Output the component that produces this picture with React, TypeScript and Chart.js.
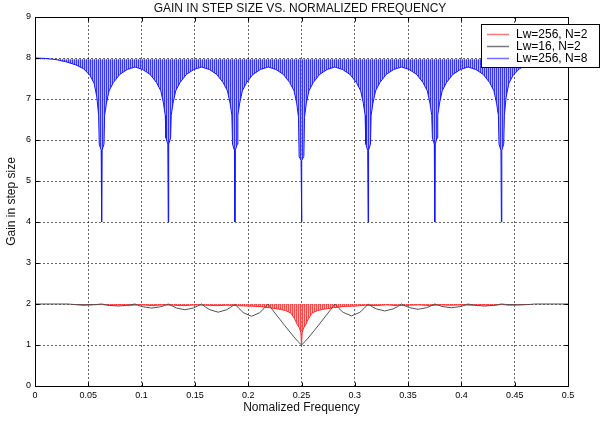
import { useEffect, useRef } from 'react';
import { Chart, registerables } from 'chart.js';

Chart.register(...registerables);

const chartTitle = 'GAIN IN STEP SIZE VS. NORMALIZED FREQUENCY';
const xAxisTitle = 'Nomalized Frequency';
const yAxisTitle = 'Gain in step size';
const seriesLabels = ['Lw=256, N=2', 'Lw=16, N=2', 'Lw=256, N=8'];

const xTickValues = [0, 0.05, 0.1, 0.15, 0.2, 0.25, 0.3, 0.35, 0.4, 0.45, 0.5];
const xTickLabels = ['0', '0.05', '0.1', '0.15', '0.2', '0.25', '0.3', '0.35', '0.4', '0.45', '0.5'];
const yTickValues = [0, 1, 2, 3, 4, 5, 6, 7, 8, 9];
const yTickLabels = ['0', '1', '2', '3', '4', '5', '6', '7', '8', '9'];

// Lw=256, N=2 (lower envelope of the red trace)
const redFreq = [
  0.035, 0.045, 0.055, 0.0625, 0.07, 0.08, 0.09, 0.1, 0.11, 0.12,
  0.13, 0.14, 0.15, 0.16, 0.17, 0.18, 0.19, 0.2, 0.21, 0.22,
  0.23, 0.235, 0.24, 0.2435, 0.246, 0.248, 0.2494, 0.25, 0.2506, 0.252,
  0.254, 0.2565, 0.26, 0.265, 0.27, 0.28, 0.29, 0.3, 0.31, 0.32,
  0.33, 0.34, 0.35, 0.36, 0.37, 0.38, 0.39, 0.4, 0.41, 0.42,
  0.43, 0.4375, 0.445, 0.455, 0.465,
];
const redGain = [
  1.99, 1.97, 1.98, 1.99, 1.97, 1.98, 1.97, 1.98, 1.96, 1.98,
  1.97, 1.96, 1.98, 1.97, 1.96, 1.97, 1.96, 1.95, 1.94, 1.91,
  1.87, 1.84, 1.78, 1.64, 1.5, 1.42, 1.3, 1.0, 1.3, 1.42,
  1.5, 1.64, 1.78, 1.84, 1.87, 1.91, 1.94, 1.95, 1.97, 1.96,
  1.98, 1.96, 1.97, 1.98, 1.96, 1.98, 1.97, 1.98, 1.97, 1.98,
  1.97, 1.99, 1.97, 1.98, 1.99,
];

// Lw=16, N=2
const blackFreq = [
  0, 0.03125, 0.0352, 0.0391, 0.0469, 0.0547, 0.0586,
  0.0625, 0.0664, 0.0703, 0.0781, 0.0859, 0.0898,
  0.09375, 0.0977, 0.1016, 0.1094, 0.1172, 0.1211,
  0.125, 0.1289, 0.1328, 0.1406, 0.1484, 0.1523,
  0.15625, 0.1602, 0.1641, 0.1719, 0.1797, 0.1836,
  0.1875, 0.1914, 0.1953, 0.2031, 0.2109, 0.2148,
  0.21875, 0.2227, 0.2266, 0.2344, 0.2422, 0.2461, 0.25, 0.2539, 0.2578, 0.2656, 0.2734, 0.2773,
  0.28125, 0.2852, 0.2891, 0.2969, 0.3047, 0.3086,
  0.3125, 0.3164, 0.3203, 0.3281, 0.3359, 0.3398,
  0.34375, 0.3477, 0.3516, 0.3594, 0.3672, 0.3711,
  0.375, 0.3789, 0.3828, 0.3906, 0.3984, 0.4023,
  0.40625, 0.4102, 0.4141, 0.4219, 0.4297, 0.4336,
  0.4375, 0.4414, 0.4453, 0.4531, 0.4609, 0.4648,
  0.46875, 0.5,
];
const blackGain = [
  2, 2, 1.99, 1.986, 1.98, 1.986, 1.99,
  2, 1.98, 1.965, 1.95, 1.965, 1.98,
  2, 1.96, 1.93, 1.9, 1.93, 1.96,
  2, 1.95, 1.9, 1.86, 1.9, 1.95,
  2, 1.92, 1.86, 1.8, 1.86, 1.92,
  2, 1.89, 1.79, 1.7, 1.79, 1.89,
  2, 1.86, 1.73, 1.47, 1.22, 1.1, 1.0, 1.1, 1.22, 1.47, 1.73, 1.86,
  2, 1.89, 1.795, 1.71, 1.795, 1.89,
  2, 1.93, 1.88, 1.83, 1.88, 1.93,
  2, 1.95, 1.91, 1.87, 1.91, 1.95,
  2, 1.965, 1.935, 1.91, 1.935, 1.965,
  2, 1.98, 1.965, 1.95, 1.965, 1.98,
  2, 1.99, 1.986, 1.98, 1.986, 1.99,
  2, 2,
];

// Lw=256, N=8 (lower envelope of the blue trace)
const blueFreq = [
  0, 0.01, 0.02, 0.03, 0.0385, 0.0455, 0.0515, 0.0555, 0.058, 0.0597, 0.0603, 0.0621, 0.0625,
  0.0629, 0.0647, 0.0653, 0.067, 0.0695, 0.0735, 0.0795, 0.0865, 0.09375,
  0.101, 0.108, 0.114, 0.118, 0.1205, 0.1222, 0.1228, 0.1246, 0.125,
  0.1254, 0.1272, 0.1278, 0.1295, 0.132, 0.136, 0.142, 0.149, 0.15625,
  0.1635, 0.1705, 0.1765, 0.1805, 0.183, 0.1847, 0.1853, 0.1871, 0.1875,
  0.1879, 0.1897, 0.1903, 0.192, 0.1945, 0.1985, 0.2045, 0.2115, 0.21875,
  0.226, 0.233, 0.239, 0.243, 0.2455, 0.2472, 0.2478, 0.2496, 0.25,
  0.2504, 0.2522, 0.2528, 0.2545, 0.257, 0.261, 0.267, 0.274, 0.28125,
  0.2885, 0.2955, 0.3015, 0.3055, 0.308, 0.3097, 0.3103, 0.3121, 0.3125,
  0.3129, 0.3147, 0.3153, 0.317, 0.3195, 0.3235, 0.3295, 0.3365, 0.34375,
  0.351, 0.358, 0.364, 0.368, 0.3705, 0.3722, 0.3728, 0.3746, 0.375,
  0.3754, 0.3772, 0.3778, 0.3795, 0.382, 0.386, 0.392, 0.399, 0.40625,
  0.4135, 0.4205, 0.4265, 0.4305, 0.433, 0.4347, 0.4353, 0.4371, 0.4375,
  0.4379, 0.4397, 0.4403, 0.442, 0.4445, 0.4485, 0.4545, 0.4615, 0.47, 0.48, 0.49, 0.5,
];
const blueGain = [
  8, 7.99, 7.96, 7.9, 7.83, 7.74, 7.58, 7.38, 7.05, 6.6, 5.9, 5.75, 4,
  5.75, 5.9, 6.6, 6.9, 7.2, 7.4, 7.6, 7.72, 7.78,
  7.72, 7.6, 7.4, 7.2, 6.9, 6.6, 6.05, 5.9, 4,
  5.9, 6.05, 6.6, 6.9, 7.2, 7.4, 7.6, 7.72, 7.78,
  7.72, 7.6, 7.4, 7.2, 6.9, 6.6, 5.9, 5.75, 4,
  5.75, 5.9, 6.6, 6.9, 7.2, 7.4, 7.6, 7.72, 7.78,
  7.72, 7.6, 7.4, 7.2, 6.9, 6.55, 5.6, 5.5, 4,
  5.5, 5.6, 6.55, 6.9, 7.2, 7.4, 7.6, 7.72, 7.78,
  7.72, 7.6, 7.4, 7.2, 6.9, 6.6, 5.9, 5.75, 4,
  5.75, 5.9, 6.6, 6.9, 7.2, 7.4, 7.6, 7.72, 7.78,
  7.72, 7.6, 7.4, 7.2, 6.9, 6.6, 6.05, 5.9, 4,
  5.9, 6.05, 6.6, 6.9, 7.2, 7.4, 7.6, 7.72, 7.78,
  7.72, 7.6, 7.4, 7.2, 6.9, 6.6, 5.9, 5.75, 4,
  5.75, 5.9, 6.6, 7.05, 7.38, 7.58, 7.74, 7.83, 7.9, 7.96, 7.99, 8,
];
const blueTop = 7.97;
const redTop = 2;

const FONT = 'Liberation Sans, Arial, Helvetica, sans-serif';

const toPoints = (xs: number[], ys: number[]) => xs.map((x, i) => ({ x, y: ys[i] }));

const frameLegendPlugin = {
  id: 'frameLegend',
  afterDraw(chart: any) {
    const { ctx, chartArea: a, scales } = chart;
    ctx.save();
    ctx.strokeStyle = '#000';
    ctx.lineWidth = 1;
    const l = Math.round(a.left) + 0.5;
    const r = Math.round(a.right) + 0.5;
    const t = Math.round(a.top) + 0.5;
    const b = Math.round(a.bottom) + 0.5;
    ctx.strokeRect(l, t, r - l, b - t);
    ctx.beginPath();
    scales.x.ticks.forEach((tk: any) => {
      const px = Math.round(scales.x.getPixelForValue(tk.value)) + 0.5;
      ctx.moveTo(px, b); ctx.lineTo(px, b - 4);
      ctx.moveTo(px, t); ctx.lineTo(px, t + 4);
    });
    scales.y.ticks.forEach((tk: any) => {
      const py = Math.round(scales.y.getPixelForValue(tk.value)) + 0.5;
      ctx.moveTo(l, py); ctx.lineTo(l + 4, py);
      ctx.moveTo(r, py); ctx.lineTo(r - 4, py);
    });
    ctx.stroke();

    // legend box
    const bx = 481, by = 24, bw = 118, bh = 43;
    ctx.fillStyle = '#fff';
    ctx.fillRect(bx, by, bw, bh);
    ctx.strokeStyle = '#000';
    ctx.strokeRect(bx + 0.5, by + 0.5, bw, bh);
    const rows = [34, 46, 58];
    const legendColors = ['rgb(255,120,120)', 'rgb(120,120,120)', 'rgb(110,110,255)'];
    ctx.font = `12px ${FONT}`;
    ctx.textBaseline = 'middle';
    ctx.textAlign = 'left';
    seriesLabels.forEach((lab, i) => {
      ctx.strokeStyle = legendColors[i];
      ctx.lineWidth = 1.5;
      ctx.beginPath();
      ctx.moveTo(487, rows[i] + 0.5);
      ctx.lineTo(509, rows[i] + 0.5);
      ctx.stroke();
      ctx.fillStyle = '#000';
      ctx.fillText(lab, 516, rows[i] + 0.5);
    });
    ctx.restore();
  },
};

export default function App() {
  const ref = useRef<HTMLCanvasElement>(null);
  useEffect(() => {
    const canvas = ref.current!;
    const ctx = canvas.getContext('2d')!;
    const makeHatch = (dark: string, light: string) => {
      const p = document.createElement('canvas');
      p.width = 2;
      p.height = 1;
      const pc = p.getContext('2d')!;
      pc.fillStyle = light;
      pc.fillRect(0, 0, 2, 1);
      pc.fillStyle = dark;
      pc.fillRect(0, 0, 1, 1);
      return ctx.createPattern(p, 'repeat')!;
    };
    const blueHatch = makeHatch('rgba(40,40,255,0.9)', 'rgba(150,150,255,0.7)');
    const redHatch = makeHatch('rgba(255,50,50,0.85)', 'rgba(255,150,150,0.6)');

    Chart.defaults.font.family = FONT;

    const chart = new Chart(canvas, {
      type: 'line',
      data: {
        datasets: [
          {
            label: seriesLabels[0],
            data: toPoints(redFreq, redGain),
            borderColor: 'rgb(255,40,40)',
            borderWidth: 1,
            backgroundColor: redHatch,
            fill: { value: redTop },
            pointRadius: 0,
            tension: 0,
            order: 3,
          },
          {
            label: seriesLabels[1],
            data: toPoints(blackFreq, blackGain),
            borderColor: 'rgb(80,80,80)',
            borderWidth: 1,
            fill: false,
            pointRadius: 0,
            tension: 0,
            order: 2,
          },
          {
            label: seriesLabels[2],
            data: toPoints(blueFreq, blueGain),
            borderColor: 'rgb(20,20,255)',
            borderWidth: 1,
            backgroundColor: blueHatch,
            fill: { value: blueTop },
            pointRadius: 0,
            tension: 0,
            order: 1,
          },
        ],
      } as any,
      options: {
        animation: false,
        responsive: false,
        events: [],
        layout: { padding: { left: 0, right: 13, top: 0, bottom: 0 } },
        plugins: {
          legend: { display: false },
          tooltip: { enabled: false },
          title: {
            display: true,
            text: chartTitle,
            color: '#111',
            font: { family: FONT, size: 12, weight: 'normal' },
            padding: { top: 1, bottom: 1.6 },
          },
        },
        scales: {
          x: {
            type: 'linear',
            min: 0,
            max: 0.5,
            afterBuildTicks: (s: any) => {
              s.ticks = xTickValues.map((v) => ({ value: v }));
            },
            afterFit: (s: any) => {
              s.height = 36;
            },
            ticks: {
              callback: (_v: any, i: number) => xTickLabels[i],
              font: { family: FONT, size: 9 },
              color: '#000',
              padding: 4,
              maxRotation: 0,
              autoSkip: false,
            },
            grid: { color: 'rgba(0,0,0,0.6)', drawTicks: false, lineWidth: 1 },
            border: { display: false, dash: [2, 2] },
            title: {
              display: true,
              text: xAxisTitle,
              color: '#111',
              font: { family: FONT, size: 12 },
              padding: { top: 0, bottom: 6.8 },
            },
          },
          y: {
            type: 'linear',
            min: 0,
            max: 9,
            afterBuildTicks: (s: any) => {
              s.ticks = yTickValues.map((v) => ({ value: v }));
            },
            afterFit: (s: any) => {
              s.width = 35;
            },
            ticks: {
              callback: (_v: any, i: number) => yTickLabels[i],
              font: { family: FONT, size: 9 },
              color: '#000',
              padding: 4,
              autoSkip: false,
            },
            grid: { color: 'rgba(0,0,0,0.6)', drawTicks: false, lineWidth: 1 },
            border: { display: false, dash: [2, 2] },
            title: {
              display: true,
              text: yAxisTitle,
              color: '#111',
              font: { family: FONT, size: 12 },
              padding: { top: 4.8, bottom: 0 },
            },
          },
          yRight: {
            type: 'linear',
            position: 'right',
            min: 0,
            max: 9,
            display: true,
            afterFit: (s: any) => {
              s.width = 32;
            },
            grid: { display: false, drawOnChartArea: false, drawTicks: false },
            ticks: { display: false },
            border: { display: false },
          },
        },
      } as any,
      plugins: [frameLegendPlugin],
    });
    return () => chart.destroy();
  }, []);

  return (
    <div style={{ position: 'fixed', left: 0, top: 0, width: 613, height: 422, background: '#fff' }}>
      <canvas ref={ref} width={613} height={422} style={{ display: 'block', width: 613, height: 422 }} />
    </div>
  );
}
